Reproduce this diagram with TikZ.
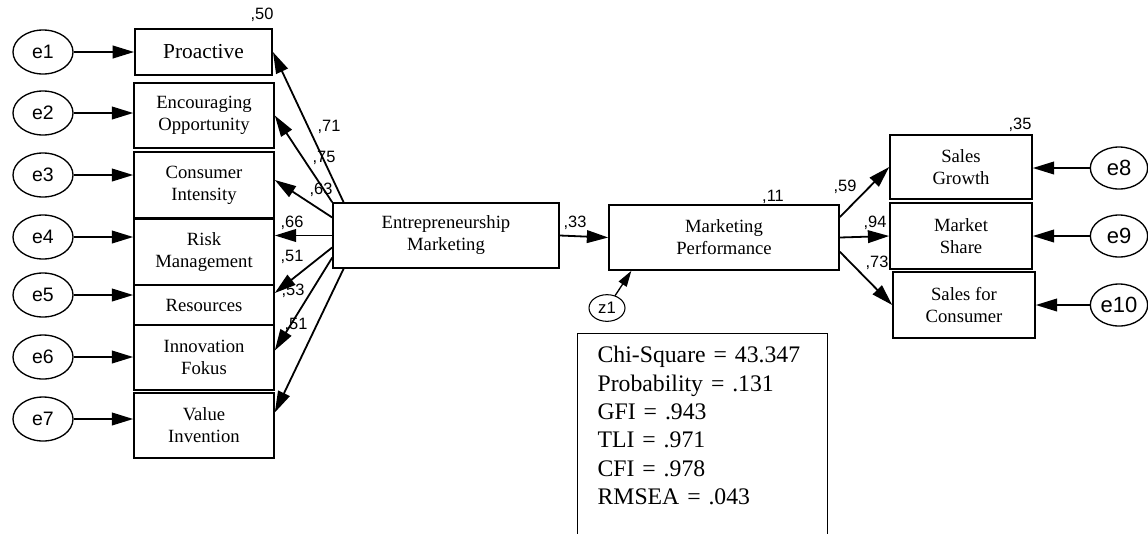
\documentclass[tikz,border=0pt]{standalone}
\usepackage{fontspec}
\setmainfont{Liberation Serif}
\newfontfamily\amosfont{Liberation Sans}
\usepackage{tikz}
\usetikzlibrary{shapes}
\usetikzlibrary{calc}
\usetikzlibrary{arrows.meta}
\tikzset{obs/.style={rectangle, draw, line width=1.2pt, inner sep=0pt, align=center, minimum width=105pt, font=\fontsize{14}{16.5}\selectfont}}
\tikzset{err/.style={ellipse, draw, line width=1pt, inner sep=0pt, minimum width=45pt, minimum height=33pt, font=\amosfont\fontsize{14.6}{16}\selectfont}}
\tikzset{coef/.style={inner sep=0pt, font=\amosfont\fontsize{12.3}{13}\selectfont}}
\tikzset{reg/.style={-{Triangle[length=16pt,width=9.5pt]}, line width=1.35pt}}

\begin{document}
\begin{tikzpicture}[x=0.75pt,y=-0.75pt]
  \useasboundingbox (0,0) rectangle (1148,533);
  \clip (0,0) rectangle (1148,533);
  % coefficients
  \foreach \x/\y/\nm/\v in {
    262/15/c1/{,50},
    329/127/c2/{,71},
    324/158/c3/{,75},
    321/190/c4/{,63},
    292/223/c5/{,66},
    292/257/c6/{,51},
    293/291/c7/{,53},
    296/325/c8/{,51},
    575/223/c9/{,33},
    773/197/c10/{,11},
    845/187/c11/{,59},
    875/223/c12/{,94},
    877/263/c13/{,73},
    1020/125/c14/{,35}%
  } {
    \node[coef] (\nm) at (\x, \y) {\v};
  }
  % indicators
  \node[obs, minimum width=103pt, minimum height=34.5pt, font=\fontsize{16}{19}\selectfont] (pro) at (203.5,52) {Proactive};
  \foreach \y/\h/\nm/\txt in {
    115.5/48.75pt/enc/{Encouraging\\Opportunity},
    185/49.5pt/con/{Consumer\\Intensity},
    252/49.5pt/rsk/{Risk\\Management},
    305/30pt/res/{Resources},
    357.5/48.75pt/inn/{Innovation\\Fokus},
    425.5/48.75pt/val/{Value\\Invention}%
  } {
    \node[obs, minimum height=\h] (\nm) at (204, \y) {\txt};
  }
  \node[obs, minimum width=106.5pt, minimum height=48pt] (sg) at (961,167) {Sales\\Growth};
  \node[obs, minimum width=106.5pt, minimum height=49.5pt] (ms) at (961,236) {Market\\Share};
  \node[obs, minimum width=106.5pt, minimum height=49.5pt] (sc) at (964,305) {Sales for\\Consumer};
  % latent
  \node[obs, minimum width=169.5pt, minimum height=48.75pt] (em) at (446,235.5) {Entrepreneurship\\Marketing};
  \node[obs, minimum width=172.5pt, minimum height=48.75pt] (mp) at (724,237.5) {Marketing\\Performance};
  % errors
  \foreach \y/\nm in {52/e1, 113/e2, 175/e3, 237/e4, 295/e5, 357/e6, 419/e7} {
    \node[err] (\nm) at (43, \y) {\nm};
  }
  \foreach \y/\nm in {168/e8, 236/e9, 305/e10} {
    \node[err, minimum width=43pt, minimum height=31.5pt, font=\amosfont\fontsize{16.5}{18}\selectfont] (\nm) at (1119, \y) {\nm};
  }
  \node[err, minimum width=27pt, minimum height=20pt, line width=0.8pt, font=\amosfont\fontsize{12.5}{14}\selectfont] (z1) at (607,308) {z1};
  % paths
  \foreach \e/\b in {e1/pro, e2/enc, e3/con, e4/rsk, e5/res, e6/inn, e7/val} {
    \draw[reg] (\e) -- (\e -| \b.west);
  }
  \foreach \e/\b in {e8/sg, e9/ms, e10/sc} {
    \draw[reg] (\e) -- (\e -| \b.east);
  }
  \draw[reg] ($(em.north west)!0.05!(em.north east)$) -- (pro.east);
  \draw[reg] (em.north west) -- (enc.east);
  \draw[reg] (em.171) -- ($(con.east)+(0,-5)$);
  \draw[reg] (em.west) -- (em.west -| rsk.east);
  \draw[reg] (em.186) -- ($(res.east)+(0,-12)$);
  \draw[reg] (em.191) -- ($(inn.east)+(0,-7)$);
  \draw[reg] ($(em.south west)!0.05!(em.south east)$) -- ($(val.east)+(0,-13)$);
  \draw[reg] (em.east) -- (mp.west);
  \draw[reg] (mp.10) -- (sg.west);
  \draw[reg] (mp.east) -- (ms.west);
  \draw[reg] (mp.-7) -- (sc.west);
  \draw[reg, -{Triangle[length=12pt,width=7pt]}, line width=1pt] (z1) -- ($(mp.south west)!0.1!(mp.south east)$);
  % fit
  \node[draw, line width=0.9pt, anchor=north west, inner xsep=15pt, inner ysep=9.5pt, align=left, text width=157.5pt, font=\fontsize{17.8}{21.3}\selectfont] (fit) at (577,333) {Chi-Square = 43.347\\Probability = .131\\GFI = .943\\TLI = .971\\CFI = .978\\RMSEA = .043\\~};
\end{tikzpicture}
\end{document}
